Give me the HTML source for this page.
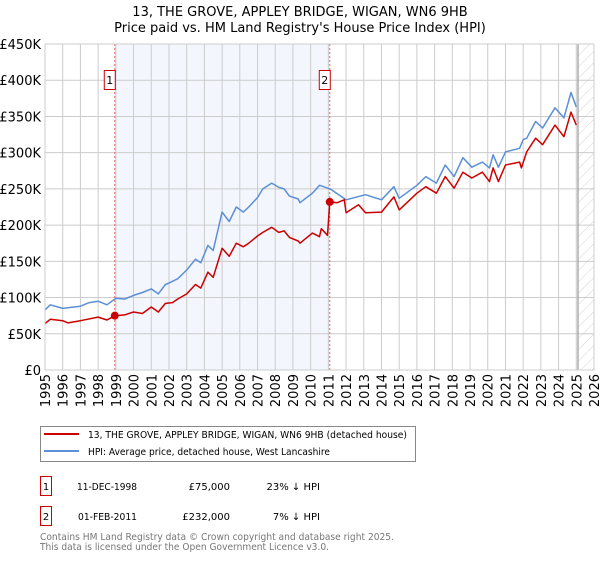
<!DOCTYPE html>
<html><head><meta charset="utf-8"><style>
body{margin:0;background:#fff;font-family:"Liberation Sans","DejaVu Sans",sans-serif;}
svg text{font-family:"DejaVu Sans","Liberation Sans",sans-serif;}
</style></head><body>
<svg id="c" width="600" height="560" viewBox="0 0 600 560" xmlns="http://www.w3.org/2000/svg">
<defs><pattern id="hatch" width="8" height="8" patternUnits="userSpaceOnUse" patternTransform="rotate(45)"><line x1="0" y1="0" x2="0" y2="8" stroke="#d4d4d4" stroke-width="1"/></pattern></defs>
<text x="300" y="16" text-anchor="middle" font-size="13">13, THE GROVE, APPLEY BRIDGE, WIGAN, WN6 9HB</text>
<text x="300" y="32" text-anchor="middle" font-size="13">Price paid vs. HM Land Registry's House Price Index (HPI)</text>
<g id="plot"></g>
<g>
<rect x="40.5" y="426.5" width="375" height="35" fill="#fff" stroke="#888"/>
<line x1="44" y1="434" x2="79" y2="434" stroke="#cc0000" stroke-width="2"/>
<text x="88" y="438" font-size="10" textLength="319" lengthAdjust="spacingAndGlyphs">13, THE GROVE, APPLEY BRIDGE, WIGAN, WN6 9HB (detached house)</text>
<line x1="44" y1="451" x2="79" y2="451" stroke="#5b8fd6" stroke-width="2"/>
<text x="88" y="455" font-size="10" textLength="242" lengthAdjust="spacingAndGlyphs">HPI: Average price, detached house, West Lancashire</text>
</g>
<g font-size="10">
<rect x="40.5" y="476.5" width="11" height="19" fill="#fff" stroke="#cc0000"/>
<text x="46" y="490" text-anchor="middle">1</text>
<text x="77" y="490" textLength="60" lengthAdjust="spacingAndGlyphs">11-DEC-1998</text>
<text x="230" y="490" text-anchor="end">£75,000</text>
<text x="320" y="490" text-anchor="end">23% ↓ HPI</text>
<rect x="40.5" y="506.5" width="11" height="19" fill="#fff" stroke="#cc0000"/>
<text x="46" y="520" text-anchor="middle">2</text>
<text x="78" y="520" textLength="59" lengthAdjust="spacingAndGlyphs">01-FEB-2011</text>
<text x="230" y="520" text-anchor="end">£232,000</text>
<text x="320" y="520" text-anchor="end">7% ↓ HPI</text>
</g>
<text x="40" y="540" font-size="10" fill="#777" textLength="354" lengthAdjust="spacingAndGlyphs">Contains HM Land Registry data © Crown copyright and database right 2025.</text>
<text x="40" y="550" font-size="10" fill="#777" textLength="289" lengthAdjust="spacingAndGlyphs">This data is licensed under the Open Government Licence v3.0.</text>
</svg>
<script>
const yTicks=[0,50000,100000,150000,200000,250000,300000,350000,400000,450000];
const yTickLabels=["£0","£50K","£100K","£150K","£200K","£250K","£300K","£350K","£400K","£450K"];
const xYears=[1995,1996,1997,1998,1999,2000,2001,2002,2003,2004,2005,2006,2007,2008,2009,2010,2011,2012,2013,2014,2015,2016,2017,2018,2019,2020,2021,2022,2023,2024,2025,2026];
const hpiT=[1995,1995.3,1996,1997,1997.5,1998,1998.5,1999,1999.5,2000,2000.5,2001,2001.4,2001.8,2002,2002.5,2003,2003.5,2003.8,2004.2,2004.5,2005,2005.4,2005.8,2006.2,2006.5,2007,2007.3,2007.8,2008.2,2008.5,2008.8,2009.3,2009.4,2010.1,2010.5,2011.1,2012,2013.1,2014,2014.7,2015,2016,2016.5,2017.1,2017.6,2018.1,2018.6,2019.1,2019.7,2020.1,2020.3,2020.6,2021,2021.8,2022,2022.2,2022.7,2023.1,2023.8,2024.3,2024.7,2025];
const hpiV=[83,90,85,88,93,95,90,99,98,103,107,112,105,118,120,126,138,153,148,172,165,218,205,225,218,225,238,250,258,252,250,240,236,231,244,255,250,235,242,235,253,237,255,267,258,283,267,293,280,287,279,297,280,301,306,318,320,343,334,362,348,383,363];
const propT=[1995,1995.3,1996,1996.3,1997,1998,1998.5,1998.94,1999.5,2000,2000.5,2001,2001.4,2001.8,2002.2,2002.5,2003,2003.5,2003.8,2004.2,2004.5,2005,2005.4,2005.8,2006.2,2006.5,2007,2007.3,2007.8,2008.2,2008.5,2008.8,2009.3,2009.4,2010.1,2010.5,2010.6,2010.95,2011.08,2011.5,2011.9,2012,2012.7,2013.1,2014,2014.7,2015,2016,2016.5,2017.1,2017.6,2018.1,2018.6,2019.1,2019.7,2020.1,2020.3,2020.6,2021,2021.8,2021.9,2022.2,2022.7,2023.1,2023.8,2024.3,2024.7,2025];
const propV=[64,70,68,65,68,73,69,75,76,80,78,87,80,92,93,98,105,118,113,135,128,168,157,175,170,175,185,190,197,190,192,183,178,175,189,184,195,186,232,231,235,217,228,217,218,239,221,244,253,244,267,251,273,265,273,260,279,260,283,287,279,301,320,311,338,322,356,338];
const saleT=[1998.94,2011.08];
const saleV=[75000,232000];
const saleLabels=["1","2"];

const X0=45,X1=594,Y0=370,Y1=44;
const xs=t=>X0+(t-1995)/(2026-1995)*(X1-X0);
const ys=v=>Y0-v/450000*(Y0-Y1);
const NS="http://www.w3.org/2000/svg";
const g=document.getElementById('plot');
function mk(tag,attrs,parent){const e=document.createElementNS(NS,tag);for(const k in attrs)e.setAttribute(k,attrs[k]);(parent||g).appendChild(e);return e;}

let r=mk('rect',{x:xs(saleT[0]),y:Y1,width:xs(saleT[1])-xs(saleT[0]),height:Y0-Y1,fill:'#f3f6fd'});


const endX=578;
r=mk('rect',{x:endX,y:Y1,width:X1-endX,height:Y0-Y1,fill:'url(#hatch)'});



yTicks.forEach((v,i)=>{
 const l=mk('line',{x1:X0,x2:X1,y1:ys(v),y2:ys(v),stroke:'#ccc','stroke-width':1});
 
 
 const t=mk('text',{x:X0-4,y:ys(v)+5,'text-anchor':'end','font-size':13});
 t.textContent=yTickLabels[i];
 
 
});
xYears.forEach(yr=>{
 const x=xs(yr);
 const l=mk('line',{x1:x,x2:x,y1:Y1,y2:Y0,stroke:'#ccc','stroke-width':1});
 
 
 const t=mk('text',{x:0,y:0,'text-anchor':'end','font-size':13,transform:`translate(${x+5},374) rotate(-90)`});
 t.textContent=yr;
 
 
});
let el=mk('line',{x1:endX,x2:endX,y1:Y1,y2:Y0,stroke:'#999','stroke-width':1.2});


saleT.forEach((t,i)=>{
 const l=mk('line',{x1:xs(t),x2:xs(t),y1:Y1,y2:Y0,stroke:'#f06060','stroke-width':1,'stroke-dasharray':'2,2'});
 
 
});
function path(T,V,color,name){
 const d=T.map((t,i)=>(i?'L':'M')+xs(t).toFixed(1)+','+ys(V[i]*1000).toFixed(1)).join('');
 const p=mk('path',{d:d,fill:'none',stroke:color,'stroke-width':1.5,'stroke-linejoin':'round'});
 
 
}
path(hpiT,hpiV,'#5b8fd6','hpi-line');
path(propT,propV,'#cc0000','property-line');
saleT.forEach((t,i)=>{
 const c=mk('circle',{cx:xs(t),cy:ys(saleV[i]),r:4,fill:'#cc0000'});
 
 
 const b=mk('rect',{x:xs(t)-10.5,y:70.5,width:11,height:19,fill:'#fff',stroke:'#cc0000'});
 
 
 const tx=mk('text',{x:xs(t)-5,y:84,'text-anchor':'middle','font-size':11});
 tx.textContent=saleLabels[i];
 
 
});
let fr=mk('rect',{x:X0,y:Y1,width:X1-X0,height:Y0-Y1,fill:'none',stroke:'#ccc'});


</script>
</body></html>
